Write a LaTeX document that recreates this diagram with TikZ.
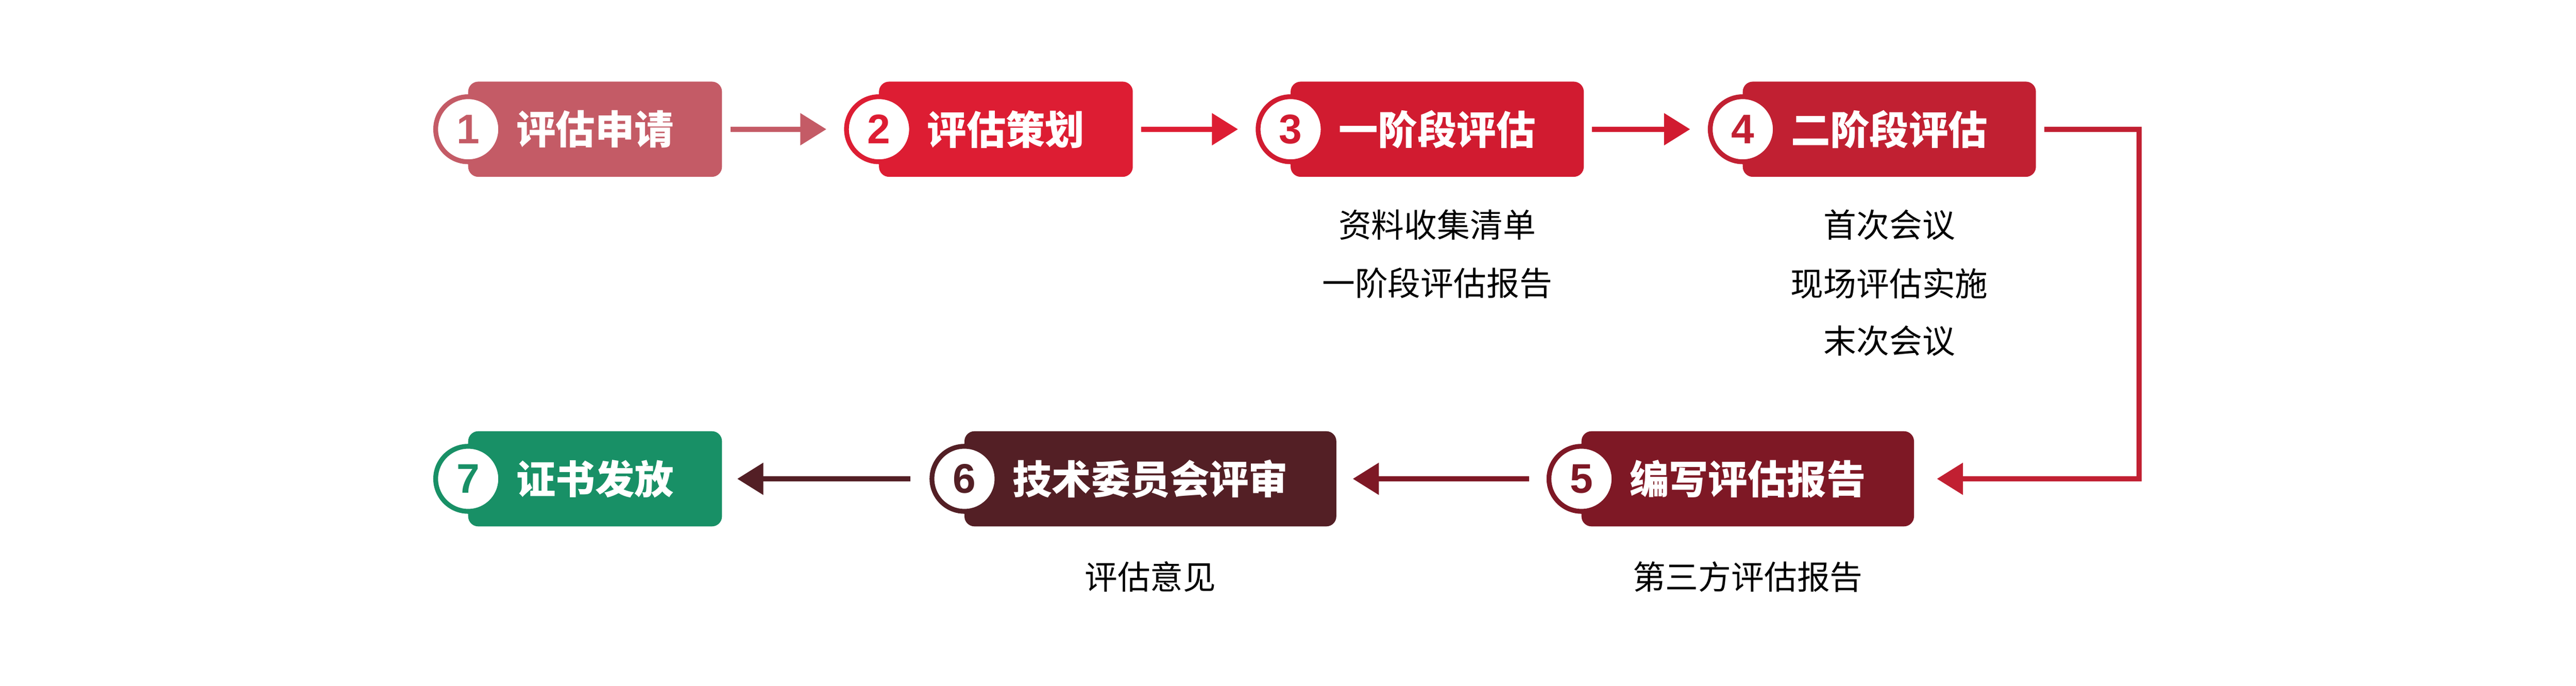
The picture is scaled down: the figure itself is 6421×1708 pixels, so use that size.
\documentclass[tikz,border=0pt]{standalone}
\usepackage{fontspec}
\setmainfont{Noto Sans CJK SC}
\newfontfamily\numfont{Liberation Sans}
\usepackage{tikz}
\usetikzlibrary{arrows.meta}

\definecolor{stepA}{HTML}{C45B66}
\definecolor{stepB}{HTML}{DD1D33}
\definecolor{stepC}{HTML}{D11B30}
\definecolor{stepD}{HTML}{C12032}
\definecolor{stepE}{HTML}{7E1825}
\definecolor{stepF}{HTML}{531F25}
\definecolor{stepG}{HTML}{189066}

\begin{document}
\begin{tikzpicture}[x=0.01cm, y=-0.01cm,
  box/.style={fill=#1, rounded corners=0.25cm, anchor=west, minimum height=2.37cm,
    inner xsep=1.2cm, inner ysep=0pt, outer sep=0pt, text=white,
    font=\fontsize{27.9}{30}\selectfont\bfseries},
  num/.style={circle, draw=#1, fill=white, line width=0.12cm, minimum size=1.62cm,
    inner sep=0pt, text=#1, font=\numfont\fontsize{29.3}{31}\selectfont\bfseries},
  sub/.style={inner sep=0pt, text=black, font=\fontsize{23.3}{26}\selectfont},
  flow/.style={draw=#1, line width=0.13cm, -{Triangle[length=0.65cm, width=0.77cm]}}
]
\useasboundingbox (0,0) rectangle (6421,1708);

% first row
\node[box=stepA] (b1) at (1167,322) {评估申请};
\node[num=stepA] (c1) at (1167,322) {1};
\node[box=stepB] (b2) at (2191,322) {评估策划};
\node[num=stepB] (c2) at (2191,322) {2};
\node[box=stepC] (b3) at (3217,322) {一阶段评估};
\node[num=stepC] (c3) at (3217,322) {3};
\node[box=stepD] (b4) at (4344,322) {二阶段评估};
\node[num=stepD] (c4) at (4344,322) {4};

% second row
\node[box=stepE] (b5) at (3942,1193) {编写评估报告};
\node[num=stepE] (c5) at (3942,1193) {5};
\node[box=stepF] (b6) at (2404,1193) {技术委员会评审};
\node[num=stepF] (c6) at (2404,1193) {6};
\node[box=stepG] (b7) at (1167,1193) {证书发放};
\node[num=stepG] (c7) at (1167,1193) {7};

% outputs of the steps
\node[sub] (s3a) at (b3 |- 0,560) {资料收集清单};
\node[sub] (s3b) at (b3 |- 0,706) {一阶段评估报告};
\node[sub] (s4a) at (b4 |- 0,560) {首次会议};
\node[sub] (s4b) at (b4 |- 0,706) {现场评估实施};
\node[sub] (s4c) at (b4 |- 0,850) {末次会议};
\node[sub] (s5a) at (b5 |- 0,1437) {第三方评估报告};
\node[sub] (s6a) at (b6 |- 0,1437) {评估意见};

\draw[flow=stepA, shorten <=0.21cm, shorten >=0.44cm] (b1.east) -- (c2.west);
\draw[flow=stepB, shorten <=0.21cm, shorten >=0.44cm] (b2.east) -- (c3.west);
\draw[flow=stepC, shorten <=0.21cm, shorten >=0.44cm] (b3.east) -- (c4.west);
\draw[flow=stepD, shorten <=0.21cm, shorten >=0.57cm] (b4.east) -- ++(257,0) |- (b5.east);
\draw[flow=stepE, shorten <=0.44cm, shorten >=0.41cm] (c5.west) -- (b6.east);
\draw[flow=stepF, shorten <=0.48cm, shorten >=0.38cm] (c6.west) -- (b7.east);
\end{tikzpicture}
\end{document}
